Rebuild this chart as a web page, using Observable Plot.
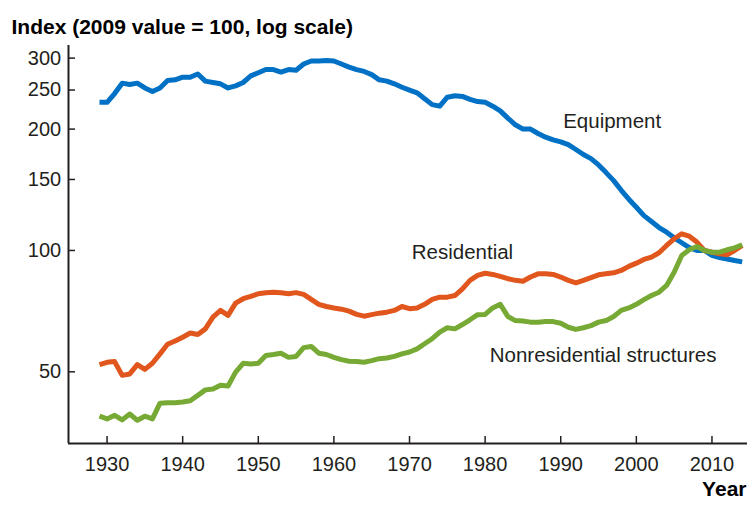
<!DOCTYPE html>
<html>
<head>
<meta charset="utf-8">
<script src="https://cdn.jsdelivr.net/npm/d3@7"></script>
<script src="https://cdn.jsdelivr.net/npm/@observablehq/plot@0.6"></script>
<style>
  html, body { margin: 0; padding: 0; background: #fff; }
  svg { display: block; }
</style>
</head>
<body>
<div id="chart"></div>
<script>
const years = d3.range(1929, 2015);

const equipment = [
  233, 233, 245, 260, 258, 260, 253, 248, 253, 264,
  265, 269, 269, 274, 263, 261, 259, 253, 256, 261,
  271, 276, 281, 281, 277, 281, 280, 290, 295, 295,
  296, 295, 290, 285, 281, 278, 273, 265, 263, 259,
  254, 250, 246, 238, 230, 228, 240, 242, 241, 237,
  234, 233, 228, 222, 213, 205, 200, 200, 195, 191,
  188, 186, 183, 178, 173, 169, 163, 156, 149, 141,
  134, 128, 122, 118, 114, 111, 107.5, 104.5, 101.6, 100,
  100, 97.2, 96, 95.2, 94.4, 93.7
];

const residential = [
  52.1, 52.8, 53, 49, 49.4, 52.1, 50.7, 52.5, 55.4, 58.5,
  59.6, 60.9, 62.4, 61.9, 63.9, 68.3, 71, 69, 74, 75.9,
  76.9, 78.1, 78.5, 78.8, 78.5, 78.1, 78.6, 77.8, 75.6, 73.5,
  72.6, 72, 71.5, 70.7, 69.4, 68.7, 69.3, 69.9, 70.3, 71,
  72.6, 71.7, 72, 73.5, 75.6, 76.6, 76.6, 77.3, 80.3, 84.3,
  86.7, 87.8, 87.2, 86.2, 85.1, 84.3, 83.9, 85.9, 87.5, 87.5,
  87.2, 85.9, 84.3, 83.1, 84.3, 85.6, 87, 87.5, 88, 89.2,
  91.3, 93, 95, 96.3, 98.7, 102.9, 106.9, 110, 108.5, 104.9,
  100, 99, 98.1, 97.6, 100, 102.9
];

const nonresidential = [
  38.8, 38.2, 39, 38, 39.3, 37.9, 38.8, 38.2, 41.8, 41.9,
  41.9, 42.1, 42.4, 43.7, 45.1, 45.3, 46.3, 46.1, 49.9, 52.5,
  52.3, 52.5, 54.9, 55.2, 55.6, 54.3, 54.6, 57.4, 57.8, 55.6,
  55.2, 54.3, 53.6, 53.1, 53, 52.8, 53.3, 53.9, 54.1, 54.6,
  55.4, 56, 57, 58.7, 60.4, 62.7, 64.3, 63.9, 65.5, 67.3,
  69.3, 69.4, 72, 73.5, 68.6, 67, 66.8, 66.4, 66.4, 66.6,
  66.6, 66, 64.5, 63.7, 64.3, 65.1, 66.4, 67, 68.6, 71,
  72, 73.5, 75.5, 77.3, 78.8, 81.9, 88.3, 97.2, 100.4, 102.3,
  100, 99, 99, 100.4, 101.5, 103.3
];

const seriesNames = ["Equipment", "Residential", "Nonresidential structures"];
const seriesColors = ["#0071c5", "#e0561c", "#77a935"];
const seriesValues = [equipment, residential, nonresidential];

const labelYears = [1996.8, 1977.0, 1995.6];
const labelValues = [209, 99, 54.9];

const yTicks = [50, 100, 150, 200, 250, 300];
const xTicks = [1930, 1940, 1950, 1960, 1970, 1980, 1990, 2000, 2010];
const xDomain = [1924.9, 2014.7];
const yDomain = [33.2, 322.4];

const titleText = "Index (2009 value = 100, log scale)";
const xTitle = "Year";

const rows = seriesNames.flatMap((name, i) =>
  years.map((yr, j) => ({ series: name, year: yr, value: seriesValues[i][j] }))
);
const labels = seriesNames.map((name, i) => ({ series: name, year: labelYears[i], value: labelValues[i] }));

const font = "'Liberation Sans', Arial, Helvetica, sans-serif";
const ink = "#231f20";

const chart = Plot.plot({
  width: 747,
  height: 508,
  marginLeft: 68,
  marginRight: 0,
  marginTop: 45,
  marginBottom: 65,
  style: { fontFamily: font, fontSize: "20px", color: ink, background: "#fff", overflow: "visible" },
  x: { domain: xDomain, label: null },
  y: { type: "log", domain: yDomain, label: null },
  color: { domain: seriesNames, range: seriesColors },
  marks: [
    Plot.axisY({ ticks: yTicks, tickFormat: d => String(d), tickSize: -7, tickPadding: 14.3, strokeWidth: 1.5, fontSize: 20, label: null }),
    Plot.axisX({ ticks: xTicks, tickFormat: d => String(d), tickSize: -7, tickPadding: 20.4, strokeWidth: 1.5, fontSize: 20, label: null }),
    Plot.ruleX([xDomain[0]], { stroke: ink, strokeWidth: 2 }),
    Plot.ruleY([yDomain[0]], { stroke: ink, strokeWidth: 2 }),
    Plot.line(rows, { x: "year", y: "value", z: "series", stroke: "series", strokeWidth: 5, strokeLinejoin: "round", strokeLinecap: "butt" }),
    Plot.text(labels, { x: "year", y: "value", text: "series", fill: ink, fontSize: 20.5 }),
    Plot.text([titleText], { frameAnchor: "top-left", dx: -57, dy: -26.2, textAnchor: "start", fontWeight: "bold", fontSize: 21, fill: "#000" }),
    Plot.text([xTitle], { frameAnchor: "bottom-right", dx: -1, dy: 52.5, textAnchor: "end", fontWeight: "bold", fontSize: 21, fill: "#000" })
  ]
});

document.getElementById("chart").appendChild(chart);
</script>
</body>
</html>
